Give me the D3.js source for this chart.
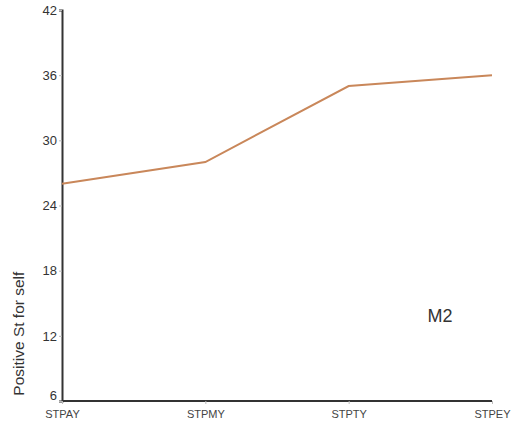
<!DOCTYPE html>
<html>
<head>
<meta charset="utf-8">
<script src="https://cdn.jsdelivr.net/npm/d3@7"></script>
<style>
  body { margin: 0; background: #fff; }
  .tick text { font-family: Arial, "Liberation Sans", sans-serif; }
</style>
</head>
<body>
<div class="chart"></div>
<script>
// Data
var categories = ["STPAY", "STPMY", "STPTY", "STPEY"];
var values = [26, 28, 35, 36];
var yTicks = [6, 12, 18, 24, 30, 36, 42];

var svgWidth = 518, svgHeight = 427;
var margin = { top: 10, right: 26, bottom: 26, left: 62 };
var width = svgWidth - margin.left - margin.right;
var height = svgHeight - margin.top - margin.bottom;

var svg = d3.select(".chart")
    .append("svg")
    .attr("width", svgWidth)
    .attr("height", svgHeight)
    .append("g")
    .attr("transform", "translate(" + margin.left + "," + margin.top + ")");

var xScale = d3.scalePoint().domain(categories).range([0, 430]);
var yScale = d3.scaleLinear().domain([6, 42]).range([height, 0]);

// y axis
var yAxis = svg.append("g")
    .call(d3.axisLeft(yScale).tickValues(yTicks).tickSize(3).tickPadding(2));
yAxis.select(".domain").attr("stroke", "#333").attr("stroke-width", 2);
yAxis.selectAll(".tick line").attr("stroke", "#bbb");
yAxis.selectAll(".tick text")
    .style("font-size", "13px")
    .style("fill", "#333")
    .attr("dy", function (d) { return d === 6 ? "-0.1em" : "0.32em"; });

// x axis
var xAxis = svg.append("g")
    .attr("transform", "translate(0," + height + ")")
    .call(d3.axisBottom(xScale).tickSize(3).tickPadding(6).tickSizeOuter(0));
xAxis.select(".domain").attr("stroke", "#333").attr("stroke-width", 2)
    .attr("d", "M0,0H430");
xAxis.selectAll(".tick line").attr("stroke", "#bbb");
xAxis.selectAll(".tick text")
    .style("font-size", "11px")
    .style("fill", "#444");

// the line
var line = d3.line()
    .x(function (d, i) { return xScale(categories[i]); })
    .y(function (d) { return yScale(d); });

svg.append("path")
    .datum(values)
    .attr("fill", "none")
    .attr("stroke", "#c9875a")
    .attr("stroke-width", 2)
    .attr("d", line);

// y axis label
svg.append("text")
    .attr("transform", "rotate(-90)")
    .attr("x", -(yScale(12.2)))
    .attr("y", -38)
    .attr("text-anchor", "middle")
    .style("font-family", "Arial, 'Liberation Sans', sans-serif")
    .style("font-size", "15.5px")
    .style("fill", "#333")
    .text("Positive St for self");

// model label
svg.append("text")
    .attr("x", 378)
    .attr("y", 312)
    .attr("text-anchor", "middle")
    .style("font-family", "Arial, 'Liberation Sans', sans-serif")
    .style("font-size", "18px")
    .style("fill", "#333")
    .text("M2");
</script>
</body>
</html>
